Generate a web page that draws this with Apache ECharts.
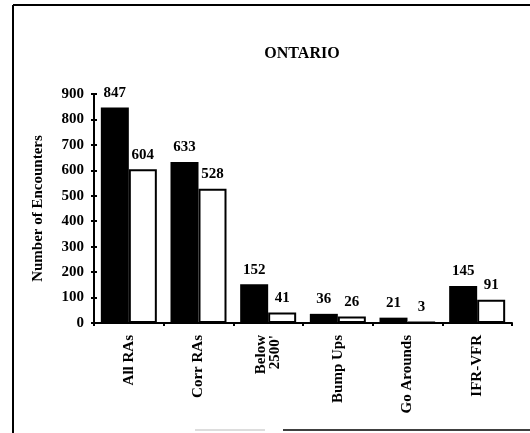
<!DOCTYPE html>
<html>
<head>
<meta charset="utf-8">
<script src="https://cdn.jsdelivr.net/npm/echarts@6/dist/echarts.min.js"></script>
<style>html,body{margin:0;padding:0;background:#fff;}#c{width:530px;height:433px;}</style>
</head>
<body>
<div id="c"></div>
<script>
const categories = ["All RAs", "Corr RAs", "Below\n2500'", "Bump Ups", "Go Arounds", "IFR-VFR"];
const seriesBlack = [847, 633, 152, 36, 21, 145];
const seriesWhite = [604, 528, 41, 26, 3, 91];
const yTicks = [0, 100, 200, 300, 400, 500, 600, 700, 800, 900];

const FONT = '"Liberation Serif", "DejaVu Serif", serif';
const chart = echarts.init(document.getElementById('c'), null, {renderer: 'canvas'});
const labelCfg = {show: true, position: 'top', distance: 7, color: '#000', fontFamily: FONT, fontWeight: 'bold', fontSize: 15};
chart.setOption({
  backgroundColor: '#fff',
  animation: false,
  title: {text: 'ONTARIO', left: 297, top: 41, textAlign: 'center',
    textStyle: {fontFamily: FONT, fontWeight: 'bold', fontSize: 16, color: '#000'}},
  grid: {left: 94, right: 18, top: 94, bottom: 110},
  xAxis: {type: 'category', data: categories,
    axisLine: {lineStyle: {color: '#000', width: 2}},
    axisTick: {show: true, alignWithLabel: false, length: 3, lineStyle: {color: '#000', width: 2}},
    axisLabel: {rotate: 90, margin: 12, color: '#000', fontFamily: FONT, fontWeight: 'bold', fontSize: 15, lineHeight: 14, interval: 0}},
  yAxis: [
    {type: 'value', min: yTicks[0], max: yTicks[yTicks.length - 1], interval: 100,
      name: 'Number of Encounters', nameLocation: 'middle', nameGap: 48,
      nameTextStyle: {fontFamily: FONT, fontWeight: 'bold', fontSize: 15, color: '#000'},
      splitLine: {show: false},
      axisLine: {show: true, lineStyle: {color: '#000', width: 2}},
      axisTick: {show: true, length: 3, lineStyle: {color: '#000', width: 2}},
      axisLabel: {margin: 10, color: '#000', fontFamily: FONT, fontWeight: 'bold', fontSize: 15}},
    {type: 'value', min: yTicks[0], max: yTicks[yTicks.length - 1], interval: 100, position: 'left', offset: 0,
      splitLine: {show: false}, axisLine: {show: false},
      axisTick: {show: true, inside: true, length: 3, lineStyle: {color: '#000', width: 2}},
      axisLabel: {show: false}}
  ],
  series: [
    {type: 'bar', data: seriesBlack, barWidth: 28, barGap: '0%', itemStyle: {color: '#000'}, label: labelCfg},
    {type: 'bar', data: seriesWhite, barWidth: 28, itemStyle: {color: '#fff', borderColor: '#000', borderWidth: 2}, label: labelCfg}
  ],
  graphic: [
    {type: 'line', shape: {x1: 13, y1: 5, x2: 530, y2: 5}, style: {stroke: '#000', lineWidth: 2}},
    {type: 'line', shape: {x1: 13, y1: 5, x2: 13, y2: 433}, style: {stroke: '#000', lineWidth: 2}},
    {type: 'line', shape: {x1: 195, y1: 430, x2: 265, y2: 430}, style: {stroke: '#bbb', lineWidth: 1}},
    {type: 'line', shape: {x1: 283, y1: 430, x2: 530, y2: 430}, style: {stroke: '#000', lineWidth: 1.5}}
  ]
});
</script>
</body>
</html>
